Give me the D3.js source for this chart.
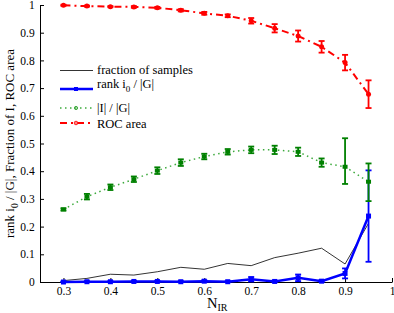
<!DOCTYPE html>
<html>
<head>
<meta charset="utf-8">
<script src="https://cdn.jsdelivr.net/npm/d3@7"></script>
<style>
  body { margin: 0; background: #fff; }
  svg text { font-family: "Liberation Serif", "Times New Roman", Times, "DejaVu Serif", serif; }
</style>
</head>
<body>
<div id="chart"></div>
<script>
// data
var nir = [0.3, 0.35, 0.4, 0.45, 0.5, 0.55, 0.6, 0.65, 0.7, 0.75, 0.8, 0.85, 0.9, 0.95];

var fraction = [0.005, 0.013, 0.028, 0.025, 0.037, 0.053, 0.046, 0.067, 0.059, 0.088, 0.104, 0.122, 0.065, 0.212];

var rank = [0.0, 0.001, 0.001, 0.002, 0.002, 0.001, 0.003, 0.001, 0.01, 0.002, 0.015, 0.003, 0.031, 0.238];
var rankErr = [0.002, 0.002, 0.002, 0.002, 0.002, 0.002, 0.003, 0.002, 0.008, 0.003, 0.012, 0.004, 0.018, 0.165];

var ratio = [0.262, 0.308, 0.342, 0.371, 0.402, 0.431, 0.453, 0.470, 0.477, 0.477, 0.470, 0.431, 0.416, 0.362];
var ratioErrLo = [0.004, 0.01, 0.01, 0.01, 0.012, 0.012, 0.01, 0.01, 0.012, 0.015, 0.015, 0.015, 0.062, 0.07];
var ratioErrHi = [0.004, 0.01, 0.01, 0.01, 0.012, 0.012, 0.01, 0.01, 0.012, 0.015, 0.015, 0.015, 0.103, 0.066];

var roc = [0.999, 0.996, 0.994, 0.993, 0.99, 0.981, 0.970, 0.961, 0.943, 0.916, 0.888, 0.849, 0.792, 0.678];
var rocErr = [0.002, 0.002, 0.002, 0.003, 0.003, 0.004, 0.005, 0.005, 0.01, 0.015, 0.02, 0.021, 0.028, 0.05];

var xTicks = [0.3, 0.4, 0.5, 0.6, 0.7, 0.8, 0.9, 1];
var yTicks = [0, 0.1, 0.2, 0.3, 0.4, 0.5, 0.6, 0.7, 0.8, 0.9, 1];

var W = 394, H = 313;
var margin = {top: 5, right: 2, bottom: 31, left: 40};
var width = W - margin.left - margin.right,
    height = H - margin.top - margin.bottom;
var serif = "Liberation Serif";

var svg = d3.select("#chart").append("svg")
    .attr("width", W)
    .attr("height", H);

var g = svg.append("g")
    .attr("transform", "translate(" + margin.left + "," + margin.top + ")");

var x = d3.scaleLinear().domain([0.25, 1]).range([0, width]);
var y = d3.scaleLinear().domain([0, 1]).range([height, 0]);

// axes, ticks pointing inward
var xAxis = g.append("g")
    .attr("transform", "translate(0," + height + ")")
    .call(d3.axisBottom(x).tickValues(xTicks).tickSizeInner(-4).tickSizeOuter(0)
        .tickFormat(function(d) { return d === 1 ? "1" : d3.format(".1f")(d); }));
var yAxis = g.append("g")
    .call(d3.axisLeft(y).tickValues(yTicks).tickSizeInner(-4).tickSizeOuter(0)
        .tickFormat(function(d) { return d === 0 ? "0" : d === 1 ? "1" : d3.format(".1f")(d); }));

[xAxis, yAxis].forEach(function(a) {
    a.attr("font-family", serif).attr("font-size", 11.5);
    a.selectAll("text").attr("fill", "#000");
    a.selectAll("line").attr("stroke", "#000");
    a.select(".domain").attr("stroke", "#000");
});
xAxis.selectAll("text").attr("dy", "0.85em");
yAxis.selectAll("text").attr("dx", "-0.2em");

var line = function(vals) {
    return d3.line()
        .x(function(d, i) { return x(nir[i]); })
        .y(function(d) { return y(d); })(vals);
};

function errorBars(cls, lo, hi, color, w) {
    var grp = g.append("g").attr("class", cls);
    nir.forEach(function(n, i) {
        var cx = x(n), y0 = y(lo[i]), y1 = y(hi[i]);
        grp.append("line").attr("x1", cx).attr("x2", cx).attr("y1", y0).attr("y2", y1)
            .attr("stroke", color).attr("stroke-width", w);
        [y0, y1].forEach(function(yy) {
            grp.append("line").attr("x1", cx - 3).attr("x2", cx + 3).attr("y1", yy).attr("y2", yy)
                .attr("stroke", color).attr("stroke-width", w);
        });
    });
}

// fraction of samples
g.append("path").attr("d", line(fraction))
    .attr("fill", "none").attr("stroke", "#000").attr("stroke-width", 0.8);

// rank i0 / |G|
errorBars("rankErr",
    rank.map(function(d, i) { return Math.max(0, d - rankErr[i]); }),
    rank.map(function(d, i) { return d + rankErr[i]; }), "#0000ff", 1.8);
g.append("path").attr("d", line(rank))
    .attr("fill", "none").attr("stroke", "#0000ff").attr("stroke-width", 2.5);
g.selectAll(".rankPt").data(rank).enter().append("rect")
    .attr("x", function(d, i) { return x(nir[i]) - 2.5; })
    .attr("y", function(d) { return y(d) - 2.5; })
    .attr("width", 5).attr("height", 5).attr("fill", "#0000ff");

// |I| / |G|
errorBars("ratioErr",
    ratio.map(function(d, i) { return d - ratioErrLo[i]; }),
    ratio.map(function(d, i) { return d + ratioErrHi[i]; }), "#008000", 1.8);
g.append("path").attr("d", line(ratio))
    .attr("fill", "none").attr("stroke", "#3caa3c").attr("stroke-width", 1.5)
    .attr("stroke-dasharray", "1.5,3.5");
g.selectAll(".ratioPt").data(ratio).enter().append("rect")
    .attr("x", function(d, i) { return x(nir[i]) - 2.5; })
    .attr("y", function(d) { return y(d) - 2; })
    .attr("width", 5).attr("height", 4).attr("fill", "#008000");

// ROC area
errorBars("rocErr",
    roc.map(function(d, i) { return d - rocErr[i]; }),
    roc.map(function(d, i) { return d + rocErr[i]; }), "#ff0000", 1.8);
g.append("path").attr("d", line(roc))
    .attr("fill", "none").attr("stroke", "#ff0000").attr("stroke-width", 2)
    .attr("stroke-dasharray", "7,4,2,4");
g.selectAll(".rocPt").data(roc).enter().append("circle")
    .attr("cx", function(d, i) { return x(nir[i]); })
    .attr("cy", function(d) { return y(d); })
    .attr("r", 2.5).attr("fill", "#ff0000");

// legend
var legend = svg.append("g").attr("font-family", serif).attr("font-size", 12.5);
var lx0 = 60, lx1 = 93, tx = 97;

legend.append("line").attr("x1", lx0).attr("x2", lx1).attr("y1", 70.5).attr("y2", 70.5)
    .attr("stroke", "#000").attr("stroke-width", 0.8);
legend.append("text").attr("x", tx).attr("y", 74).text("fraction of samples");

legend.append("line").attr("x1", lx0).attr("x2", lx1).attr("y1", 89).attr("y2", 89)
    .attr("stroke", "#0000ff").attr("stroke-width", 2.5);
legend.append("rect").attr("x", 74).attr("y", 87).attr("width", 4).attr("height", 4).attr("fill", "#0000ff");
var t2 = legend.append("text").attr("x", tx).attr("y", 88);
t2.append("tspan").text("rank i");
t2.append("tspan").attr("dy", 4).attr("font-size", 9).text("0");
t2.append("tspan").attr("dy", -4).text(" / |G|");

legend.append("line").attr("x1", lx0).attr("x2", lx1).attr("y1", 108).attr("y2", 108)
    .attr("stroke", "#3caa3c").attr("stroke-width", 1.5).attr("stroke-dasharray", "1.5,3.5");
legend.append("circle").attr("cx", 76).attr("cy", 108).attr("r", 1.6)
    .attr("fill", "none").attr("stroke", "#3caa3c").attr("stroke-width", 1);
legend.append("text").attr("x", tx).attr("y", 112).text("|I| / |G|");

legend.append("line").attr("x1", lx0).attr("x2", lx1).attr("y1", 123).attr("y2", 123)
    .attr("stroke", "#ff0000").attr("stroke-width", 2).attr("stroke-dasharray", "7,4,2,4");
legend.append("circle").attr("cx", 76).attr("cy", 123).attr("r", 1.8)
    .attr("fill", "#ff8080").attr("stroke", "#ff0000").attr("stroke-width", 0.8);
legend.append("text").attr("x", tx).attr("y", 127.5).text("ROC area");

// axis labels
var xl = svg.append("text").attr("x", 207).attr("y", 307.5)
    .attr("font-family", serif).attr("font-size", 14.5);
xl.append("tspan").text("N");
xl.append("tspan").attr("dy", 3.5).attr("font-size", 10).text("IR");

var yl = svg.append("text")
    .attr("transform", "translate(14," + (margin.top + height / 2) + ") rotate(-90)")
    .attr("text-anchor", "middle")
    .attr("font-family", serif).attr("font-size", 13);
yl.append("tspan").text("rank i");
yl.append("tspan").attr("dy", 4).attr("font-size", 9.5).text("0");
yl.append("tspan").attr("dy", -4).text(" / |G|, Fraction of I, ROC area");
</script>
</body>
</html>
